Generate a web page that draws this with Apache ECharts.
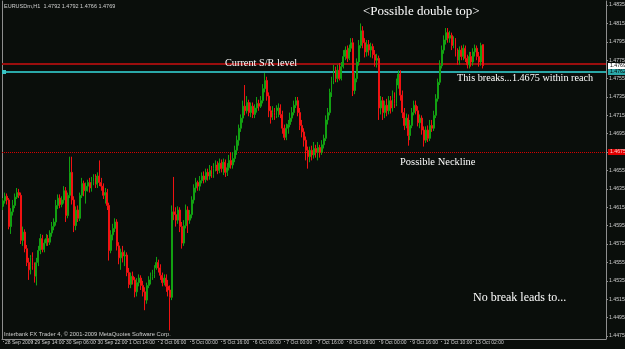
<!DOCTYPE html>
<html>
<head>
<meta charset="utf-8">
<script src="https://cdn.jsdelivr.net/npm/echarts@6/dist/echarts.min.js"></script>
<style>
html,body{margin:0;padding:0;background:#0a0e0b;}
#c{width:625px;height:349px;}
</style>
</head>
<body>
<div id="c"></div>
<script>
// EURUSDm H1 candles (28 Sep 2009 23:00 -> 13 Oct 2009)
const open = [
1.4616,1.4622,1.4627,1.4623,1.4594,1.4610,1.4617,1.4626,1.4631,1.4628,
1.4579,1.4588,1.4570,1.4555,1.4547,1.4560,1.4552,1.4540,1.4555,1.4568,
1.4581,1.4569,1.4576,1.4581,1.4577,1.4587,1.4594,1.4599,1.4617,1.4625,
1.4618,1.4623,1.4633,1.4606,1.4628,1.4653,1.4623,1.4595,1.4612,1.4603,
1.4628,1.4641,1.4633,1.4638,1.4642,1.4636,1.4643,1.4647,1.4640,1.4649,
1.4642,1.4638,1.4628,1.4631,1.4617,1.4568,1.4585,1.4592,1.4599,1.4573,
1.4560,1.4566,1.4562,1.4563,1.4544,1.4531,1.4540,1.4536,1.4523,1.4533,
1.4538,1.4530,1.4523,1.4514,1.4530,1.4536,1.4540,1.4542,1.4549,1.4555,
1.4549,1.4541,1.4533,1.4538,1.4529,1.4525,1.4517,1.4610,1.4607,1.4601,
1.4612,1.4594,1.4576,1.4595,1.4612,1.4601,1.4607,1.4623,1.4636,1.4642,
1.4638,1.4644,1.4649,1.4645,1.4653,1.4649,1.4655,1.4651,1.4657,1.4661,
1.4655,1.4663,1.4657,1.4664,1.4653,1.4658,1.4666,1.4661,1.4668,1.4677,
1.4688,1.4701,1.4712,1.4725,1.4720,1.4729,1.4718,1.4725,1.4716,1.4723,
1.4728,1.4725,1.4731,1.4744,1.4753,1.4736,1.4720,1.4713,1.4718,1.4715,
1.4720,1.4723,1.4716,1.4701,1.4691,1.4701,1.4705,1.4712,1.4718,1.4726,
1.4731,1.4718,1.4704,1.4697,1.4688,1.4677,1.4670,1.4677,1.4672,1.4679,
1.4675,1.4680,1.4675,1.4683,1.4690,1.4710,1.4718,1.4740,1.4753,1.4762,
1.4755,1.4764,1.4755,1.4768,1.4779,1.4786,1.4777,1.4788,1.4794,1.4742,
1.4755,1.4773,1.4791,1.4807,1.4794,1.4784,1.4792,1.4786,1.4790,1.4781,
1.4775,1.4777,1.4723,1.4731,1.4718,1.4726,1.4720,1.4731,1.4723,1.4733,
1.4728,1.4748,1.4760,1.4737,1.4718,1.4704,1.4712,1.4693,1.4704,1.4718,
1.4726,1.4720,1.4707,1.4712,1.4699,1.4688,1.4699,1.4690,1.4704,1.4701,
1.4715,1.4733,1.4751,1.4769,1.4786,1.4797,1.4805,1.4799,1.4802,1.4791,
1.4797,1.4784,1.4775,1.4786,1.4779,1.4788,1.4777,1.4770,1.4779,1.4773,
1.4784,1.4788,1.4779,1.4773,1.4792
];
const close = [
1.4622,1.4627,1.4623,1.4594,1.4610,1.4617,1.4626,1.4631,1.4628,1.4579,
1.4588,1.4570,1.4555,1.4547,1.4560,1.4552,1.4540,1.4555,1.4568,1.4581,
1.4569,1.4576,1.4581,1.4577,1.4587,1.4594,1.4599,1.4617,1.4625,1.4618,
1.4623,1.4633,1.4606,1.4628,1.4653,1.4623,1.4595,1.4612,1.4603,1.4628,
1.4641,1.4633,1.4638,1.4642,1.4636,1.4643,1.4647,1.4640,1.4649,1.4642,
1.4638,1.4628,1.4631,1.4617,1.4568,1.4585,1.4592,1.4599,1.4573,1.4560,
1.4566,1.4562,1.4563,1.4544,1.4531,1.4540,1.4536,1.4523,1.4533,1.4538,
1.4530,1.4523,1.4514,1.4530,1.4536,1.4540,1.4542,1.4549,1.4555,1.4549,
1.4541,1.4533,1.4538,1.4529,1.4525,1.4517,1.4610,1.4607,1.4601,1.4612,
1.4594,1.4576,1.4595,1.4612,1.4601,1.4607,1.4623,1.4636,1.4642,1.4638,
1.4644,1.4649,1.4645,1.4653,1.4649,1.4655,1.4651,1.4657,1.4661,1.4655,
1.4663,1.4657,1.4664,1.4653,1.4658,1.4666,1.4661,1.4668,1.4677,1.4688,
1.4701,1.4712,1.4725,1.4720,1.4729,1.4718,1.4725,1.4716,1.4723,1.4728,
1.4725,1.4731,1.4744,1.4753,1.4736,1.4720,1.4713,1.4718,1.4715,1.4720,
1.4723,1.4716,1.4701,1.4691,1.4701,1.4705,1.4712,1.4718,1.4726,1.4731,
1.4718,1.4704,1.4697,1.4688,1.4677,1.4670,1.4677,1.4672,1.4679,1.4675,
1.4680,1.4675,1.4683,1.4690,1.4710,1.4718,1.4740,1.4753,1.4762,1.4755,
1.4764,1.4755,1.4768,1.4779,1.4786,1.4777,1.4788,1.4794,1.4742,1.4755,
1.4773,1.4791,1.4807,1.4794,1.4784,1.4792,1.4786,1.4790,1.4781,1.4775,
1.4777,1.4723,1.4731,1.4718,1.4726,1.4720,1.4731,1.4723,1.4733,1.4728,
1.4748,1.4760,1.4737,1.4718,1.4704,1.4712,1.4693,1.4704,1.4718,1.4726,
1.4720,1.4707,1.4712,1.4699,1.4688,1.4699,1.4690,1.4704,1.4701,1.4715,
1.4733,1.4751,1.4769,1.4786,1.4797,1.4805,1.4799,1.4802,1.4791,1.4797,
1.4784,1.4775,1.4786,1.4779,1.4788,1.4777,1.4770,1.4779,1.4773,1.4784,
1.4788,1.4779,1.4773,1.4791,1.4769
];
const low = [
1.4612,1.4619,1.4618,1.4591,1.4586,1.4606,1.4614,1.4624,1.4625,1.4575,
1.4573,1.4566,1.4551,1.4536,1.4542,1.4547,1.4533,1.4530,1.4551,1.4564,
1.4566,1.4566,1.4573,1.4573,1.4574,1.4583,1.4590,1.4595,1.4613,1.4614,
1.4615,1.4619,1.4599,1.4603,1.4625,1.4618,1.4588,1.4590,1.4599,1.4600,
1.4625,1.4627,1.4619,1.4632,1.4631,1.4632,1.4639,1.4636,1.4636,1.4638,
1.4633,1.4624,1.4619,1.4612,1.4557,1.4565,1.4579,1.4588,1.4568,1.4553,
1.4547,1.4555,1.4551,1.4540,1.4527,1.4527,1.4531,1.4517,1.4518,1.4529,
1.4525,1.4518,1.4503,1.4510,1.4527,1.4531,1.4536,1.4538,1.4547,1.4544,
1.4536,1.4529,1.4530,1.4523,1.4518,1.4481,1.4514,1.4601,1.4594,1.4597,
1.4588,1.4570,1.4573,1.4592,1.4587,1.4597,1.4603,1.4619,1.4631,1.4633,
1.4633,1.4641,1.4641,1.4642,1.4644,1.4645,1.4647,1.4647,1.4654,1.4651,
1.4652,1.4653,1.4650,1.4648,1.4649,1.4655,1.4657,1.4657,1.4664,1.4672,
1.4682,1.4697,1.4707,1.4715,1.4717,1.4714,1.4713,1.4712,1.4712,1.4718,
1.4720,1.4723,1.4728,1.4740,1.4731,1.4713,1.4706,1.4710,1.4710,1.4712,
1.4713,1.4712,1.4695,1.4688,1.4688,1.4695,1.4702,1.4708,1.4715,1.4723,
1.4714,1.4699,1.4691,1.4681,1.4666,1.4657,1.4664,1.4666,1.4668,1.4669,
1.4666,1.4669,1.4672,1.4679,1.4687,1.4705,1.4715,1.4735,1.4749,1.4751,
1.4751,1.4753,1.4753,1.4766,1.4775,1.4773,1.4775,1.4784,1.4736,1.4738,
1.4751,1.4769,1.4788,1.4788,1.4778,1.4779,1.4780,1.4778,1.4777,1.4768,
1.4767,1.4710,1.4716,1.4710,1.4712,1.4714,1.4716,1.4717,1.4719,1.4723,
1.4725,1.4744,1.4731,1.4712,1.4699,1.4701,1.4682,1.4688,1.4701,1.4715,
1.4716,1.4703,1.4701,1.4694,1.4681,1.4685,1.4686,1.4687,1.4697,1.4698,
1.4712,1.4730,1.4748,1.4766,1.4782,1.4792,1.4794,1.4794,1.4786,1.4788,
1.4779,1.4770,1.4770,1.4775,1.4775,1.4773,1.4766,1.4766,1.4768,1.4769,
1.4779,1.4775,1.4768,1.4769,1.4766
];
const high = [
1.4625,1.4631,1.4630,1.4625,1.4614,1.4623,1.4630,1.4636,1.4635,1.4631,
1.4594,1.4591,1.4574,1.4560,1.4563,1.4566,1.4555,1.4560,1.4573,1.4586,
1.4585,1.4580,1.4586,1.4585,1.4590,1.4599,1.4603,1.4623,1.4629,1.4629,
1.4627,1.4638,1.4637,1.4631,1.4670,1.4670,1.4627,1.4616,1.4617,1.4631,
1.4647,1.4644,1.4642,1.4645,1.4647,1.4648,1.4651,1.4651,1.4653,1.4666,
1.4647,1.4641,1.4636,1.4635,1.4620,1.4590,1.4597,1.4603,1.4602,1.4577,
1.4570,1.4573,1.4568,1.4566,1.4549,1.4544,1.4545,1.4539,1.4538,1.4542,
1.4541,1.4535,1.4528,1.4533,1.4540,1.4544,1.4547,1.4552,1.4561,1.4558,
1.4553,1.4544,1.4542,1.4542,1.4536,1.4530,1.4617,1.4648,1.4615,1.4616,
1.4615,1.4599,1.4601,1.4618,1.4616,1.4612,1.4627,1.4640,1.4647,1.4644,
1.4649,1.4653,1.4654,1.4657,1.4657,1.4661,1.4660,1.4663,1.4666,1.4665,
1.4668,1.4667,1.4668,1.4667,1.4663,1.4672,1.4675,1.4675,1.4682,1.4693,
1.4705,1.4716,1.4731,1.4748,1.4736,1.4732,1.4729,1.4729,1.4727,1.4735,
1.4732,1.4736,1.4749,1.4761,1.4757,1.4740,1.4725,1.4725,1.4723,1.4726,
1.4728,1.4727,1.4720,1.4705,1.4706,1.4710,1.4718,1.4724,1.4731,1.4735,
1.4735,1.4723,1.4710,1.4701,1.4692,1.4681,1.4681,1.4682,1.4686,1.4683,
1.4686,1.4683,1.4688,1.4694,1.4715,1.4723,1.4744,1.4757,1.4770,1.4768,
1.4770,1.4772,1.4773,1.4786,1.4790,1.4791,1.4792,1.4799,1.4799,1.4762,
1.4777,1.4797,1.4815,1.4812,1.4799,1.4797,1.4797,1.4794,1.4793,1.4786,
1.4782,1.4780,1.4736,1.4735,1.4731,1.4733,1.4736,1.4736,1.4742,1.4740,
1.4755,1.4764,1.4764,1.4742,1.4723,1.4717,1.4716,1.4710,1.4723,1.4731,
1.4731,1.4725,1.4716,1.4715,1.4703,1.4703,1.4704,1.4710,1.4710,1.4720,
1.4738,1.4755,1.4775,1.4791,1.4802,1.4810,1.4810,1.4807,1.4805,1.4801,
1.4799,1.4788,1.4790,1.4791,1.4792,1.4791,1.4781,1.4784,1.4784,1.4788,
1.4792,1.4791,1.4784,1.4794,1.4792
];

// time axis: 307 hourly slots, labelled every 16 bars
const slotCount = 307;
const tickIndex = [0,15,31,47,63,79,95,111,127,143,159,175,191,207,223,239];
const tickLabels = ['28 Sep 2009','29 Sep 14:00','30 Sep 06:00','30 Sep 22:00','1 Oct 14:00','2 Oct 06:00','5 Oct 00:00',
  '5 Oct 16:00','6 Oct 08:00','7 Oct 00:00','7 Oct 16:00','8 Oct 08:00','9 Oct 00:00','9 Oct 16:00','12 Oct 10:00','13 Oct 02:00'];
const priceTicks = [1.4475,1.4495,1.4515,1.4535,1.4555,1.4575,1.4595,1.4615,1.4635,1.4655,1.4675,1.4695,1.4715,1.4735,1.4755,1.4775,1.4795,1.4815,1.4835];

// horizontal levels
const srLevel = 1.4771;
const cyanLevel = 1.4762;
const bidLevel = 1.4769;
const necklineLevel = 1.4675;

const categories = Array.from({length: slotCount}, (_, i) => String(i));
const candleData = categories.map((_, i) => i < open.length ? [open[i], close[i], low[i], high[i]] : '-');

const chart = echarts.init(document.getElementById('c'), null, {renderer: 'canvas'});
const axisGrey = '#8e8e8e';
const txt = '#cfcfcf';
const small = '"Liberation Sans Narrow", "Liberation Sans", sans-serif';
const serif = '"Liberation Serif", "DejaVu Serif", serif';

chart.setOption({
  backgroundColor: '#0a0e0b',
  animation: false,
  grid: {left: 2, right: 19, top: 1, bottom: 10, containLabel: false, outerBoundsMode: 'none'},
  xAxis: {
    type: 'category', data: categories, boundaryGap: true,
    axisLine: {lineStyle: {color: axisGrey, width: 1}},
    axisTick: {show: true, alignWithLabel: true, length: 4, interval: (i) => tickIndex.includes(i), lineStyle: {color: axisGrey, type: 'dotted'}},
    axisLabel: {
      interval: (i) => tickIndex.includes(i),
      formatter: (v, i) => { const k = tickIndex.indexOf(i); return k >= 0 ? tickLabels[k] : ''; },
      align: 'left', padding: [0, 0, 0, 2], margin: 1, hideOverlap: false,
      color: txt, fontSize: 5, fontFamily: small
    },
    splitLine: {show: false}
  },
  yAxis: [{
    type: 'value', position: 'right', min: 1.44717, max: 1.48394,
    axisLine: {show: true, lineStyle: {color: axisGrey, width: 1}},
    axisTick: {show: true, customValues: priceTicks, length: 2, lineStyle: {color: axisGrey}},
    axisLabel: {customValues: priceTicks, formatter: (v) => v.toFixed(4), color: txt, fontSize: 5.2, margin: 3, hideOverlap: false, fontFamily: small},
    splitLine: {show: false}
  }, {
    type: 'value', position: 'left', min: 1.44717, max: 1.48394,
    axisLine: {show: true, lineStyle: {color: axisGrey, width: 1}},
    axisTick: {show: false}, axisLabel: {show: false}, splitLine: {show: false}
  }],
  series: [{
    type: 'candlestick',
    yAxisIndex: 0,
    data: candleData,
    barWidth: 1.4,
    z: 3,
    itemStyle: {color: '#12a012', color0: '#f01212', borderColor: '#12a012', borderColor0: '#f01212', borderColorDoji: '#12a012', borderWidth: 1}
  }]
});

// horizontal levels placed through the y axis scale
const rect = chart.getModel().getComponent('grid').coordinateSystem.getRect();
const yPix = (v) => Math.round(chart.convertToPixel({yAxisIndex: 0}, v));
const x0 = rect.x, x1 = rect.x + rect.width;
const hLine = (v, color, w, dash) => ({
  type: 'line', z: 2, silent: true,
  shape: {x1: x0, y1: yPix(v) + (w % 2 ? 0.5 : 0), x2: x1, y2: yPix(v) + (w % 2 ? 0.5 : 0)},
  style: {stroke: color, lineWidth: w, lineDash: dash || null}
});
const axisBox = (v, bg, fg) => ({
  type: 'text', z: 10, silent: true, x: x1 + 2, y: yPix(v),
  style: {text: v.toFixed(4), fill: fg, backgroundColor: bg, padding: [1, 2, 0, 2], font: '5.2px ' + small, verticalAlign: 'middle'}
});

chart.setOption({
  graphic: [
    hLine(srLevel, '#9a0e0e', 2),
    hLine(cyanLevel, '#2aa8a8', 2),
    hLine(necklineLevel, '#d40000', 1, [1, 1]),
    {type: 'rect', z: 3, silent: true, shape: {x: x0, y: yPix(cyanLevel) - 2, width: 4, height: 4}, style: {fill: '#39c4c4'}},
    axisBox(bidLevel, '#ffffff', '#000000'),
    axisBox(cyanLevel, '#2aa8a8', '#000000'),
    axisBox(necklineLevel, '#e00000', '#ffd0d0'),
    {type: 'text', x: 4, y: 6, style: {text: 'EURUSDm,H1  1.4792 1.4792 1.4766 1.4769', fill: txt, font: '5.5px ' + small, verticalAlign: 'middle'}},
    {type: 'text', x: 4, y: 334, style: {text: 'Interbank FX Trader 4, \u00a9 2001-2009 MetaQuotes Software Corp.', fill: txt, font: '5.8px ' + small, verticalAlign: 'middle'}},
    {type: 'text', z: 10, x: 363, y: 12, style: {text: '<Possible double top>', fill: '#ffffff', font: '13px ' + serif, verticalAlign: 'middle'}},
    {type: 'text', z: 10, x: 225, y: 63, style: {text: 'Current S/R level', fill: '#ffffff', font: '10.3px ' + serif, verticalAlign: 'middle'}},
    {type: 'text', z: 10, x: 457, y: 78, style: {text: 'This breaks...1.4675 within reach', fill: '#ffffff', font: '10.2px ' + serif, verticalAlign: 'middle'}},
    {type: 'text', z: 10, x: 400, y: 162, style: {text: 'Possible Neckline', fill: '#ffffff', font: '10.5px ' + serif, verticalAlign: 'middle'}},
    {type: 'text', z: 10, x: 473, y: 298, style: {text: 'No break leads to...', fill: '#ffffff', font: '12px ' + serif, verticalAlign: 'middle'}}
  ]
});
</script>
</body>
</html>
